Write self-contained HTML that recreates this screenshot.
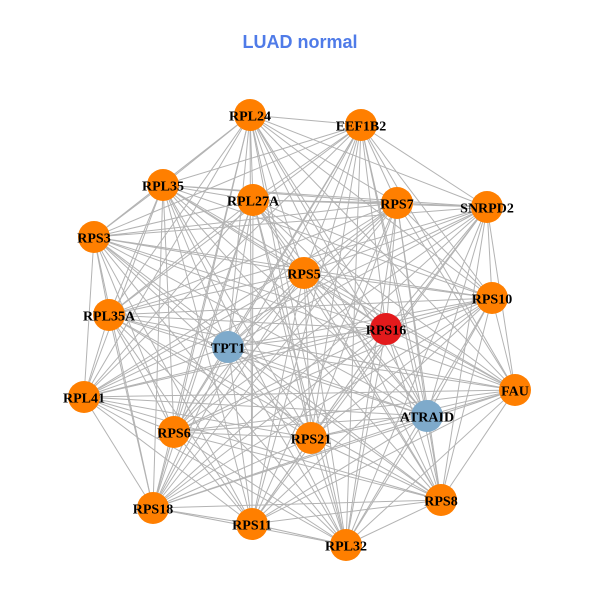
<!DOCTYPE html>
<html><head><meta charset="utf-8"><style>
html,body{margin:0;padding:0;background:#fff;}
svg{display:block;}
text.l{font-family:"Liberation Serif",serif;font-weight:bold;font-size:14px;fill:#000;text-anchor:middle;dominant-baseline:central;}
</style></head><body>
<svg id="s" width="600" height="600" viewBox="0 0 600 600">
<text x="300" y="48" font-family="Liberation Sans, sans-serif" font-weight="bold" font-size="18" fill="#4f7be8" text-anchor="middle">LUAD normal</text>
<g id="e" stroke="#b3b3b3" stroke-width="1"></g>
<g id="n"></g>
<g id="t" transform="translate(0,2)">
<text class="l" x="250" y="115">RPL24</text>
<text class="l" x="361" y="125">EEF1B2</text>
<text class="l" x="163" y="185">RPL35</text>
<text class="l" x="253" y="200">RPL27A</text>
<text class="l" x="397" y="203">RPS7</text>
<text class="l" x="487" y="207">SNRPD2</text>
<text class="l" x="94" y="237">RPS3</text>
<text class="l" x="304" y="273">RPS5</text>
<text class="l" x="492" y="298">RPS10</text>
<text class="l" x="109" y="315">RPL35A</text>
<text class="l" x="386" y="329">RPS16</text>
<text class="l" x="228" y="347">TPT1</text>
<text class="l" x="515" y="390">FAU</text>
<text class="l" x="84" y="397">RPL41</text>
<text class="l" x="427" y="416">ATRAID</text>
<text class="l" x="174" y="432">RPS6</text>
<text class="l" x="311" y="438">RPS21</text>
<text class="l" x="441" y="500">RPS8</text>
<text class="l" x="153" y="508">RPS18</text>
<text class="l" x="252" y="524">RPS11</text>
<text class="l" x="346" y="545">RPL32</text>
</g>
</svg>
<script>
var N=[[250,115,0],[361,125,0],[163,185,0],[253,200,0],[397,203,0],[487,207,0],[94,237,0],[304,273,0],[492,298,0],[109,315,0],[386,329,2],[228,347,1],[515,390,0],[84,397,0],[427,416,1],[174,432,0],[311,438,0],[441,500,0],[153,508,0],[252,524,0],[346,545,0]];
var C=["#ff7f00","#7eaacb","#e31a1c"];
var ns="http://www.w3.org/2000/svg",e=document.getElementById("e"),n=document.getElementById("n");
for(var i=0;i<N.length;i++){for(var j=i+1;j<N.length;j++){
var l=document.createElementNS(ns,"line");l.setAttribute("x1",N[i][0]);l.setAttribute("y1",N[i][1]);l.setAttribute("x2",N[j][0]);l.setAttribute("y2",N[j][1]);e.appendChild(l);}
var c=document.createElementNS(ns,"circle");c.setAttribute("cx",N[i][0]);c.setAttribute("cy",N[i][1]);c.setAttribute("r",16);c.setAttribute("fill",C[N[i][2]]);n.appendChild(c);}
</script>
</body></html>
